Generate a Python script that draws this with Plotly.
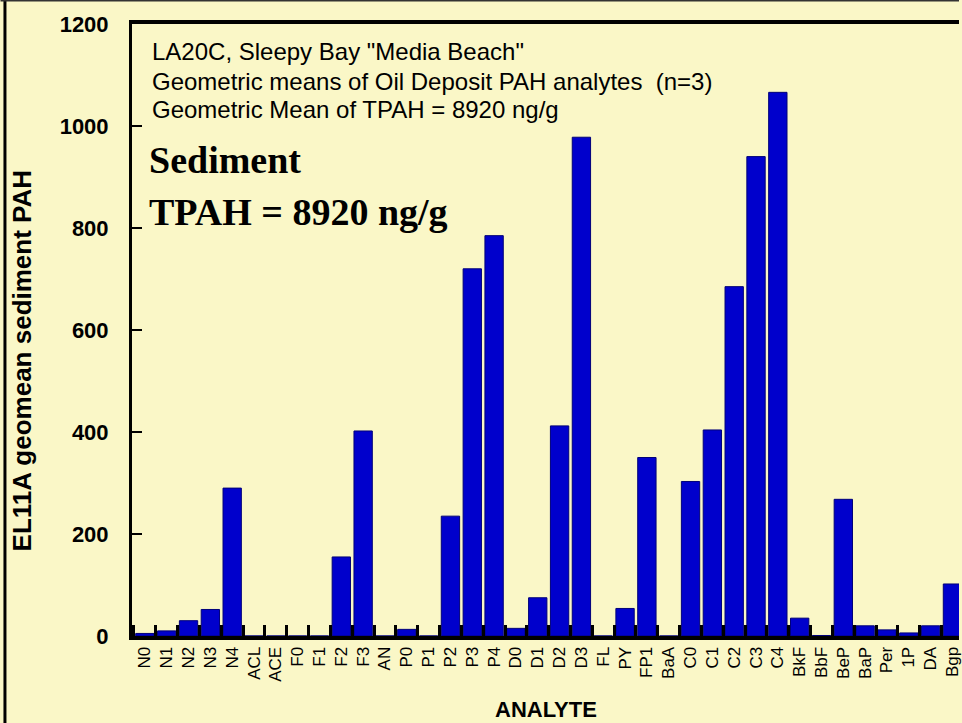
import plotly.graph_objects as go

categories = ["N0", "N1", "N2", "N3", "N4", "ACL", "ACE", "F0", "F1", "F2", "F3", "AN",
              "P0", "P1", "P2", "P3", "P4", "D0", "D1", "D2", "D3", "FL", "PY", "FP1",
              "BaA", "C0", "C1", "C2", "C3", "C4", "BkF", "BbF", "BeP", "BaP", "Per",
              "1P", "DA", "Bgp"]
values = [5, 10, 30, 52, 290, 0, 0, 0, 0, 155, 402, 0,
          13, 0, 235, 720, 785, 15, 75, 412, 978, 0, 54, 350,
          0, 303, 404, 685, 940, 1066, 35, 1, 268, 20, 12,
          6, 20, 102]
y_ticks = [0, 200, 400, 600, 800, 1000, 1200]

W, H = 962, 723
L, R, T, B = 132, 0, 24, 87
PW, PH = W - L - R, H - T - B

def px(x):
    return (x - L) / PW

def py(y):
    return (H - B - y) / PH

bg = "#FAF7C7"

fig = go.Figure(go.Bar(
    x=categories, y=values,
    marker=dict(color="#0000CC", line=dict(color="#00007A", width=1)),
    width=0.84,
))

fig.update_layout(
    width=W, height=H,
    margin=dict(l=L, r=R, t=T, b=B),
    paper_bgcolor=bg, plot_bgcolor=bg,
    showlegend=False,
    font=dict(family="Liberation Sans, Arial, sans-serif", color="black"),
)

fig.update_xaxes(
    type="category", range=[-0.59, 37.3],
    tickmode="linear", tick0=0, dtick=1,
    showline=True, linecolor="black", linewidth=4, mirror=True,
    ticks="inside", tickson="boundaries", ticklen=11, tickwidth=3, tickcolor="black",
    tickangle=-90, tickfont=dict(size=17, color="black"),
    showgrid=False, zeroline=False,
)
fig.update_yaxes(
    range=[0, 1200], tickvals=y_ticks,
    showline=True, linecolor="black", linewidth=3,
    ticks="inside", ticklen=10, tickwidth=2, tickcolor="black",
    tickfont=dict(size=22, color="black", weight="bold"),
    ticklabelstandoff=16,
    showgrid=False, zeroline=False,
)

ann = []
small = ["LA20C, Sleepy Bay \"Media Beach\"",
         "Geometric means of Oil Deposit PAH analytes &nbsp;(n=3)",
         "Geometric Mean of TPAH = 8920 ng/g"]
for i, s in enumerate(small):
    ann.append(dict(x=px(150), y=py(52 + 29 * i), xref="paper", yref="paper",
                    text=s, showarrow=False, xanchor="left", yanchor="middle",
                    font=dict(size=24, color="black", family="Liberation Sans, Arial")))
for s, yy in [("Sediment", 160), ("TPAH = 8920 ng/g", 212)]:
    ann.append(dict(x=px(147), y=py(yy), xref="paper", yref="paper",
                    text="<b>" + s + "</b>", showarrow=False, xanchor="left", yanchor="middle",
                    font=dict(size=38, color="black", family="Liberation Serif, Times New Roman, serif")))
ann.append(dict(x=px(22), y=py(361), xref="paper", yref="paper", textangle=-90,
                text="<b>EL11A geomean sediment PAH</b>", showarrow=False,
                xanchor="center", yanchor="middle", font=dict(size=26, color="black")))
ann.append(dict(x=px(548), y=py(709), xref="paper", yref="paper",
                text="<b>ANALYTE</b>", showarrow=False,
                xanchor="center", yanchor="middle", font=dict(size=22, color="black")))
fig.update_layout(annotations=ann)

fig.update_layout(shapes=[
    dict(type="line", xref="paper", yref="paper", x0=px(4.5), x1=px(4.5), y0=py(0), y1=py(H),
         line=dict(color="black", width=3)),
    dict(type="line", xref="paper", yref="paper", x0=px(0), x1=px(W), y0=py(0.5), y1=py(0.5),
         line=dict(color="#333333", width=2)),
])

fig.write_html("out.html")
